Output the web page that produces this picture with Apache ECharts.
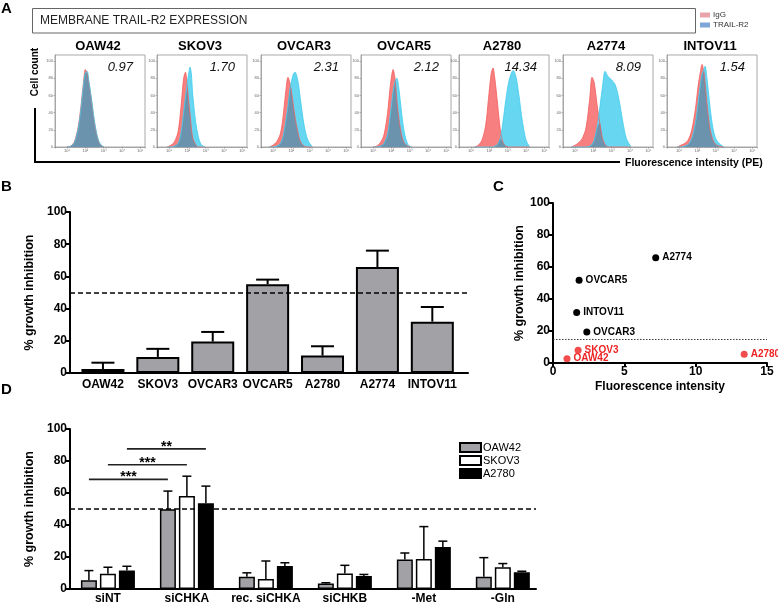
<!DOCTYPE html>
<html><head><meta charset="utf-8">
<script src="https://cdn.jsdelivr.net/npm/echarts@6/dist/echarts.min.js"></script>
<style>html,body{margin:0;padding:0;background:#fff}#c{width:778px;height:605px}</style>
</head><body><div id="c"></div>
<script>
// ---------- Panel A: flow cytometry histograms (x = log10 fluorescence) ----------
const histLines  = ['OAW42','SKOV3','OVCAR3','OVCAR5','A2780','A2774','INTOV11'];
const histRatios = ['0.97','1.70','2.31','2.12','14.34','8.09','1.54'];
const histXTickLabels = {1:'10¹',2:'10²',3:'10³',4:'10⁴',5:'10⁵'};
const histX = [
  [1.0,1.2,1.4,1.6,1.75,1.9,2.0,2.1,2.2,2.35,2.5,2.65,2.8,3.0],
  [0.9,1.1,1.3,1.5,1.65,1.8,1.9,2.0,2.08,2.15,2.22,2.3,2.45,2.6,2.75,2.95],
  [0.8,1.0,1.2,1.4,1.55,1.7,1.82,1.95,2.1,2.2,2.35,2.5,2.7,2.9,3.15],
  [1.0,1.2,1.4,1.6,1.8,1.95,2.1,2.2,2.3,2.4,2.55,2.7,2.9,3.1],
  [1.2,1.4,1.6,1.8,1.95,2.1,2.2,2.3,2.45,2.6,2.75,2.9,3.05,3.2,3.3,3.45,3.6,3.8,4.0,4.2],
  [0.8,1.0,1.2,1.4,1.6,1.8,1.93,2.05,2.2,2.35,2.5,2.64,2.8,3.0,3.2,3.4,3.6,3.8,4.05],
  [0.9,1.1,1.3,1.5,1.7,1.9,2.05,2.15,2.26,2.35,2.42,2.55,2.7,2.85,3.0,3.2,3.45]
];
const histIgG = [
  [0,1,6,22,45,75,90,86,74,52,28,12,3,0],
  [0,2,6,18,45,80,87,70,52,38,22,10,3,0,0,0],
  [0,2,6,15,35,65,81,72,50,35,18,6,1,0,0],
  [0,1,5,14,40,72,90,80,55,35,15,5,1,0],
  [0,2,8,25,55,85,92,80,50,20,5,1,0,0,0,0,0,0,0,0],
  [0,2,5,10,22,55,81,75,50,28,10,3,0,0,0,0,0,0,0],
  [0,2,4,8,20,45,72,85,96,88,75,45,20,8,3,1,0]
];
const histTrail = [
  [0,1,5,20,42,72,86,88,76,54,30,13,4,0],
  [0,0,1,4,15,40,58,75,86,93,85,60,30,12,3,0],
  [0,0,1,4,12,30,48,70,84,87,78,55,25,8,0],
  [0,0,1,4,15,38,65,76,80,70,42,18,3,0],
  [0,0,0,0,0,0,0,1,3,10,30,55,75,86,89,82,62,30,8,0],
  [0,0,0,0,0,1,3,8,22,45,70,88,82,78,72,55,30,10,0],
  [0,0,1,3,10,28,52,70,85,90,94,75,45,22,10,4,0]
];

// ---------- Panel B ----------
const bLines = ['OAW42','SKOV3','OVCAR3','OVCAR5','A2780','A2774','INTOV11'];
const bMean  = [2.5, 10.0, 19.5, 55.1, 10.8, 65.8, 31.9];
const bErr   = [3.9, 5.0, 6.0, 2.9, 5.8, 10.2, 9.1];
const bThreshold = 50;

// ---------- Panel C ----------
const cBlackNames = ['A2774','OVCAR5','INTOV11','OVCAR3'];
const cBlackX = [7.2, 1.83, 1.66, 2.37];
const cBlackY = [65.8, 51.7, 31.5, 19.4];
const cRedNames = ['SKOV3','OAW42','A2780'];
const cRedX = [1.76, 0.98, 13.4];
const cRedY = [7.9, 2.7, 5.4];
const cThreshold = 15;

// ---------- Panel D ----------
const dGroups = ['siNT','siCHKA','rec. siCHKA','siCHKB','-Met','-Gln'];
const dNames  = ['OAW42','SKOV3','A2780'];
const dOAW42  = [5.4, 49.9, 7.6, 3.5, 18.4, 7.6];
const dOAW42e = [6.1, 11.3, 2.5, 0.4, 4.1, 12.0];
const dSKOV3  = [9.5, 58.1, 6.2, 9.7, 18.8, 13.6];
const dSKOV3e = [4.1, 12.4, 11.3, 5.1, 20.2, 2.3];
const dA2780  = [11.5, 53.6, 14.4, 8.2, 26.2, 10.5];
const dA2780e = [2.7, 10.7, 2.0, 0.9, 3.7, 0.6];
const dSigFrom = [0, 0, 0];
const dSigTo   = [1, 1, 1];
const dSigLine = [0, 1, 2];          // which cell line (bar) each bracket joins
const dSigH    = [68.5, 77.7, 87.6];
const dSigText = ['***','***','**'];
const dThreshold = 50;

// ================= layout / styling =================
const FONT = "'Liberation Sans', Arial, Helvetica, sans-serif";
const histLeft = [55,157,261,361,459,563,667];
const HW = 90, HTOP = 55, HH = 92;

const grids = [], xAxes = [], yAxes = [], series = [], gfx = [];

histLines.forEach((name, i) => {
  grids.push({left: histLeft[i], top: HTOP, width: HW, height: HH, show: true,
              borderColor: '#a9a9a9', borderWidth: 1, backgroundColor: '#fff'});
  xAxes.push({gridIndex: i, type: 'value', min: 0.35, max: 5.25, splitNumber: 5,
    axisLine: {onZero: false, lineStyle: {color: '#888', width: 0.6}},
    axisTick: {length: 1.5, lineStyle: {color: '#777', width: 0.5}},
    minorTick: {show: true, splitNumber: 5, length: 1, lineStyle: {color: '#999', width: 0.4}},
    splitLine: {show: false},
    axisLabel: {fontSize: 4, color: '#666', margin: 2, fontFamily: FONT,
      showMinLabel: false, showMaxLabel: false,
      formatter: v => histXTickLabels[Math.round(v)] && Math.abs(v - Math.round(v)) < 1e-6 ? histXTickLabels[Math.round(v)] : ''}});
  yAxes.push({gridIndex: i, type: 'value', min: 0, max: 107, interval: 20,
    axisLine: {show: true, onZero: false, lineStyle: {color: '#888', width: 0.6}},
    axisTick: {show: true, length: 1.5, lineStyle: {color: '#777', width: 0.5}},
    splitLine: {show: false},
    axisLabel: {fontSize: 4, color: '#666', margin: 2, showMaxLabel: false, fontFamily: FONT}});
  const xs = histX[i];
  const red = xs.map((x, k) => [x, histIgG[i][k]]);
  const blue = xs.map((x, k) => [x, histTrail[i][k]]);
  const both = xs.map((x, k) => [x, Math.min(histIgG[i][k], histTrail[i][k])]);
  const common = {type: 'line', xAxisIndex: i, yAxisIndex: i, showSymbol: false, smooth: 0.3,
                  silent: true, z: 2};
  series.push(Object.assign({}, common, {name: 'IgG', data: red, color: '#f77b7b',
    lineStyle: {color: '#f45d5d', width: 0.8}, areaStyle: {color: '#f77f7f', opacity: 1}}));
  series.push(Object.assign({}, common, {name: 'TRAIL-R2', data: blue, color: '#62d5f0',
    lineStyle: {color: '#40cbee', width: 0.8}, areaStyle: {color: '#66d6f1', opacity: 1}}));
  series.push(Object.assign({}, common, {name: 'overlap', data: both,
    lineStyle: {width: 0}, areaStyle: {color: '#6c93ad', opacity: 1}}));
  gfx.push({type: 'text', x: histLeft[i] + HW / 2 - 2, y: 46,
    style: {text: name, font: 'bold 13px ' + FONT, fill: '#000', textAlign: 'center', textVerticalAlign: 'middle', align: 'center', verticalAlign: 'middle'}});
  gfx.push({type: 'text', x: histLeft[i] + HW - 12, y: 67,
    style: {text: histRatios[i], font: 'italic 13px ' + FONT, fill: '#111', textAlign: 'right', textVerticalAlign: 'middle', align: 'right', verticalAlign: 'middle'}});
});

const boldLbl = {fontSize: 12, fontWeight: 'bold', color: '#000', fontFamily: FONT};
const blackAxis = {show: true, onZero: false, lineStyle: {color: '#000', width: 2}};

// ---- B ----
const gB = grids.length;
grids.push({left: 70, top: 212, width: 398, height: 161});
xAxes.push({gridIndex: gB, type: 'value', min: -0.6, max: 6.65, splitNumber: 7, minInterval: 1, maxInterval: 1,
  axisLine: blackAxis, axisTick: {show: false}, splitLine: {show: false},
  axisLabel: Object.assign({}, boldLbl, {margin: 6, showMinLabel: false, showMaxLabel: false,
    formatter: v => (Number.isInteger(v) && bLines[v]) ? bLines[v] : ''})});
yAxes.push({gridIndex: gB, type: 'value', min: 0, max: 100, interval: 20,
  name: '% growth inhibition', nameLocation: 'middle', nameRotate: 90, nameGap: 25,
  nameTextStyle: {fontSize: 12.5, fontWeight: 'bold', color: '#000', fontFamily: FONT},
  axisLine: blackAxis, axisTick: {show: true, length: 4, lineStyle: {color: '#000', width: 2}},
  splitLine: {show: false}, axisLabel: Object.assign({}, boldLbl, {margin: 3})});
series.push({type: 'bar', name: 'B mean', xAxisIndex: gB, yAxisIndex: gB, barWidth: 43,
  data: bMean.map((v, i) => [i, v]),
  itemStyle: {color: '#a2a2a6', borderColor: '#000', borderWidth: 2}, z: 3,
  markLine: {silent: true, symbol: 'none', label: {show: false},
    lineStyle: {color: '#000', type: [5, 3], width: 1.6}, data: [{yAxis: bThreshold}]}});
function errSeries(grid, data, dx, cap, lw, z) {
  return {type: 'custom', xAxisIndex: grid, yAxisIndex: grid, data: data, z: z, silent: true,
    encode: {x: 0, y: 1},
    renderItem: (params, api) => {
      const p0 = api.coord([api.value(0), api.value(1)]);
      const p1 = api.coord([api.value(0), api.value(1) + api.value(2)]);
      const x = p0[0] + dx;
      return {type: 'group', children: [
        {type: 'line', shape: {x1: x, y1: p0[1], x2: x, y2: p1[1]}, style: {stroke: '#000', lineWidth: lw}},
        {type: 'line', shape: {x1: x - cap / 2, y1: p1[1], x2: x + cap / 2, y2: p1[1]}, style: {stroke: '#000', lineWidth: lw}}
      ]};
    }};
}
series.push(errSeries(gB, bMean.map((v, i) => [i, v, bErr[i]]), 0, 23, 2, 2));

// ---- C ----
const gC = grids.length;
grids.push({left: 553, top: 203, width: 214, height: 160});
xAxes.push({gridIndex: gC, type: 'value', min: 0, max: 15, interval: 5,
  name: 'Fluorescence intensity', nameLocation: 'middle', nameGap: 18,
  nameTextStyle: {fontSize: 12, fontWeight: 'bold', color: '#000', fontFamily: FONT},
  axisLine: blackAxis, axisTick: {show: true, length: 4, lineStyle: {color: '#000', width: 2}},
  splitLine: {show: false}, axisLabel: Object.assign({}, boldLbl, {margin: 3})});
yAxes.push({gridIndex: gC, type: 'value', min: 0, max: 100, interval: 20,
  name: '% growth inhibition', nameLocation: 'middle', nameRotate: 90, nameGap: 23,
  nameTextStyle: {fontSize: 12.5, fontWeight: 'bold', color: '#000', fontFamily: FONT},
  axisLine: blackAxis, axisTick: {show: true, length: 4, lineStyle: {color: '#000', width: 2}},
  splitLine: {show: false}, axisLabel: Object.assign({}, boldLbl, {margin: 3})});
series.push({type: 'scatter', name: 'C black', xAxisIndex: gC, yAxisIndex: gC, symbolSize: 7,
  itemStyle: {color: '#000', opacity: 1},
  data: cBlackNames.map((n, i) => ({name: n, value: [cBlackX[i], cBlackY[i]]})),
  label: {show: true, position: 'right', distance: 3, formatter: p => p.name,
    fontSize: 10, fontWeight: 'bold', color: '#000', fontFamily: FONT},
  labelLayout: {hideOverlap: false},
  markLine: {silent: true, symbol: 'none', label: {show: false},
    lineStyle: {color: '#222', type: [1.5, 1.5], width: 0.9}, data: [{yAxis: cThreshold}]}});
series.push({type: 'scatter', name: 'C red', xAxisIndex: gC, yAxisIndex: gC, symbolSize: 7,
  itemStyle: {color: '#f24c4c', opacity: 1},
  data: cRedNames.map((n, i) => ({name: n, value: [cRedX[i], cRedY[i]]})),
  label: {show: true, position: 'right', distance: 3, formatter: p => p.name,
    fontSize: 10, fontWeight: 'bold', color: '#ee2424', fontFamily: FONT},
  labelLayout: {hideOverlap: false}});

// ---- D ----
const gD = grids.length;
grids.push({left: 70, top: 429, width: 466, height: 161.7});
xAxes.push({gridIndex: gD, type: 'value', min: -0.48, max: 5.42, splitNumber: 6, minInterval: 1, maxInterval: 1,
  axisLine: blackAxis, axisTick: {show: false}, splitLine: {show: false},
  axisLabel: Object.assign({}, boldLbl, {margin: 4, showMinLabel: false, showMaxLabel: false,
    formatter: v => (Number.isInteger(v) && dGroups[v] !== undefined) ? dGroups[v] : ''})});
yAxes.push({gridIndex: gD, type: 'value', min: 0, max: 100, interval: 20,
  name: '% growth inhibition', nameLocation: 'middle', nameRotate: 90, nameGap: 25,
  nameTextStyle: {fontSize: 12.5, fontWeight: 'bold', color: '#000', fontFamily: FONT},
  axisLine: blackAxis, axisTick: {show: true, length: 4, lineStyle: {color: '#000', width: 2}},
  splitLine: {show: false}, axisLabel: Object.assign({}, boldLbl, {margin: 3})});
const dVals = [dOAW42, dSKOV3, dA2780], dErrs = [dOAW42e, dSKOV3e, dA2780e];
const dFill = ['#a2a2a6', '#ffffff', '#000000'];
const BW = 16, BPITCH = 19;
dNames.forEach((n, k) => {
  const s = {type: 'bar', name: n, xAxisIndex: gD, yAxisIndex: gD, barWidth: BW, barGap: ((BPITCH - BW) / BW * 100) + '%',
    data: dVals[k].map((v, i) => [i, v]), z: 3,
    itemStyle: {color: dFill[k], borderColor: '#000', borderWidth: 1.5}};
  if (k === 0) s.markLine = {silent: true, symbol: 'none', label: {show: false},
    lineStyle: {color: '#000', type: [5, 3], width: 1.6}, data: [{yAxis: dThreshold}]};
  series.push(s);
});
dNames.forEach((n, k) => {
  series.push(errSeries(gD, dVals[k].map((v, i) => [i, v, dErrs[k][i]]), (k - 1) * BPITCH, 9, 1.5, 2));
});
series.push({type: 'custom', xAxisIndex: gD, yAxisIndex: gD, silent: true, z: 4,
  encode: {x: [0, 2], y: 1},
  data: dSigH.map((h, k) => [dSigFrom[k], h, dSigTo[k], dSigLine[k]]),
  renderItem: (params, api) => {
    const dx = (api.value(3) - 1) * BPITCH;
    const a = api.coord([api.value(0), api.value(1)]);
    const b = api.coord([api.value(2), api.value(1)]);
    return {type: 'group', children: [
      {type: 'line', shape: {x1: a[0] + dx, y1: a[1], x2: b[0] + dx, y2: b[1]}, style: {stroke: '#222', lineWidth: 1.6}},
      {type: 'text', x: (a[0] + b[0]) / 2 + dx, y: a[1] - 2,
       style: {text: dSigText[params.dataIndex], font: 'bold 14px ' + FONT, fill: '#000',
               textAlign: 'center', textVerticalAlign: 'middle', align: 'center', verticalAlign: 'middle'}}
    ]};
  }});

// ---- static annotations ----
const txt = (s, x, y, font, fill) => ({type: 'text', x: x, y: y,
  style: {text: s, font: font, fill: fill || '#000', textAlign: 'left', textVerticalAlign: 'middle', align: 'left', verticalAlign: 'middle'}});
gfx.push(txt('A', 1, 9, 'bold 15px ' + FONT));
gfx.push(txt('B', 1, 187, 'bold 15px ' + FONT));
gfx.push(txt('C', 493, 187, 'bold 15px ' + FONT));
gfx.push(txt('D', 1, 390, 'bold 15px ' + FONT));
gfx.push({type: 'rect', shape: {x: 32.5, y: 8.5, width: 663, height: 24.5}, style: {fill: 'none', stroke: '#666', lineWidth: 1}});
gfx.push(txt('MEMBRANE TRAIL-R2 EXPRESSION', 40, 21, '12px ' + FONT, '#222'));
gfx.push({type: 'polyline', shape: {points: [[35, 108], [35, 162], [620, 162]]}, style: {stroke: '#000', lineWidth: 2, fill: 'none'}});
gfx.push({type: 'text', x: 35, y: 72, rotation: Math.PI / 2,
  style: {text: 'Cell count', font: 'bold 10px ' + FONT, fill: '#000', textAlign: 'center', textVerticalAlign: 'middle', align: 'center', verticalAlign: 'middle'}});
gfx.push(txt('Fluorescence intensity (PE)', 625, 163, 'bold 10.5px ' + FONT));

const option = {
  animation: false,
  backgroundColor: '#fff',
  grid: grids, xAxis: xAxes, yAxis: yAxes, series: series,
  legend: [
    {left: 700, top: 11, orient: 'vertical', itemWidth: 10, itemHeight: 5, itemGap: 2, padding: 0,
     selectedMode: false, textStyle: {fontSize: 8, color: '#333', fontFamily: FONT, padding: [0, 0, 0, -2]},
     data: [{name: 'IgG', icon: 'rect', itemStyle: {color: '#e9a4aa', borderWidth: 0}},
            {name: 'TRAIL-R2', icon: 'rect', itemStyle: {color: '#7ea6d6', borderWidth: 0}}]},
    {left: 459, top: 442, orient: 'vertical', itemWidth: 21, itemHeight: 9, itemGap: 2, padding: 0,
     selectedMode: false, textStyle: {fontSize: 11, color: '#000', fontFamily: "'Liberation Sans Narrow', " + FONT, padding: [0, 0, 0, -3]},
     data: dNames.map(n => ({name: n, icon: 'rect'}))}
  ],
  graphic: {elements: gfx}
};
const chart = echarts.init(document.getElementById('c'), null, {renderer: 'canvas'});
chart.setOption(option);
</script></body></html>
